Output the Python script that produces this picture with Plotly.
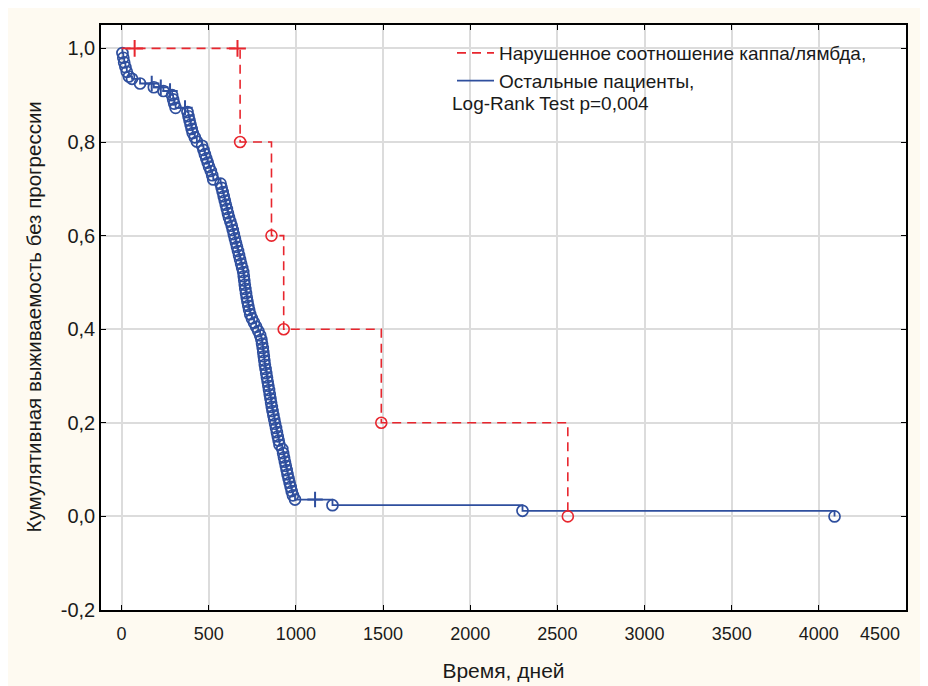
import plotly.graph_objects as go

# ---------------- data ----------------
red_name = "Нарушенное соотношение каппа/лямбда,"
blue_name = "Остальные пациенты,"
logrank_text = "Log-Rank Test p=0,004"

red_event_t = [680, 860, 930, 1490, 2560]
red_event_s = [0.8, 0.6, 0.4, 0.2, 0.0]
red_cens_t = [75, 665]
red_cens_s = [1.0, 1.0]

blue_event_t = [5, 10, 15, 22, 30, 42, 60, 106, 185, 240,
                290, 296, 302, 310, 378, 384, 390, 396, 402, 408,
                420, 432, 462, 470, 478, 486, 494, 502, 512, 520,
                526, 568, 574, 580, 586, 592, 598, 604, 610, 616,
                624, 632, 638, 644, 650, 656, 662, 668, 674, 680,
                686, 692, 698, 701, 704, 707, 710, 714, 718, 722,
                727, 732, 738, 748, 760, 772, 784, 795, 802, 806,
                810, 813, 816, 819, 822, 826, 830, 834, 838, 842,
                846, 850, 854, 858, 862, 866, 871, 876, 881, 886,
                891, 896, 901, 906, 922, 927, 932, 937, 942, 947,
                952, 958, 964, 970, 976, 983, 995, 1210, 2300, 4090]
blue_event_s = [0.990, 0.980, 0.970, 0.960, 0.950, 0.940, 0.935, 0.925, 0.917, 0.909,
                0.900, 0.891, 0.882, 0.873, 0.864, 0.855, 0.846, 0.837, 0.828, 0.819,
                0.810, 0.801, 0.792, 0.783, 0.774, 0.765, 0.756, 0.747, 0.738, 0.729,
                0.720, 0.711, 0.702, 0.693, 0.684, 0.675, 0.666, 0.657, 0.648, 0.639,
                0.630, 0.621, 0.612, 0.603, 0.594, 0.585, 0.576, 0.567, 0.558, 0.549,
                0.540, 0.531, 0.522, 0.513, 0.504, 0.495, 0.486, 0.477, 0.468, 0.459,
                0.450, 0.441, 0.432, 0.423, 0.414, 0.405, 0.396, 0.387, 0.378, 0.369,
                0.360, 0.351, 0.342, 0.333, 0.324, 0.315, 0.306, 0.297, 0.288, 0.279,
                0.270, 0.261, 0.252, 0.243, 0.234, 0.225, 0.216, 0.207, 0.198, 0.189,
                0.180, 0.171, 0.162, 0.153, 0.144, 0.135, 0.126, 0.117, 0.108, 0.099,
                0.090, 0.081, 0.072, 0.063, 0.054, 0.045, 0.036, 0.024, 0.012, 0.000]
blue_cens_t = [173, 225, 278, 364, 1110]
blue_cens_s = [0.925, 0.917, 0.909, 0.873, 0.036]

x_tick_vals = [0, 500, 1000, 1500, 2000, 2500, 3000, 3500, 4000, 4500]
x_tick_text = ["0", "500", "1000", "1500", "2000", "2500", "3000", "3500", "4000", "4500"]
y_tick_vals = [-0.2, 0.0, 0.2, 0.4, 0.6, 0.8, 1.0]
y_tick_text = ["-0,2", "0,0", "0,2", "0,4", "0,6", "0,8", "1,0"]

x_title = "Время, дней"
y_title = "Кумулятивная выживаемость без прогрессии"

# ---------------- styling ----------------
RED = "#E8262E"
BLUE = "#2F4F9E"
FONT = "Liberation Sans, Arial, sans-serif"
TXT = "#1a1a1a"
CREAM = "#FEFAF1"

W, H = 912, 686
ML, MR, MT, MB = 93, 14, 17, 84

fig = go.Figure()

# blue curve
fig.add_trace(go.Scatter(
    x=[0] + blue_event_t, y=[1.0] + blue_event_s,
    mode="lines", line=dict(color=BLUE, width=1.8, shape="hv"),
    name=blue_name, legendrank=2, hoverinfo="skip"))
fig.add_trace(go.Scatter(
    x=blue_event_t, y=blue_event_s, mode="markers",
    marker=dict(symbol="circle-open", size=11, color=BLUE, line=dict(width=1.7, color=BLUE)),
    showlegend=False, hoverinfo="skip"))
fig.add_trace(go.Scatter(
    x=blue_cens_t, y=blue_cens_s, mode="markers",
    marker=dict(symbol="cross-thin-open", size=11, color=BLUE, line=dict(width=2, color=BLUE)),
    showlegend=False, hoverinfo="skip"))

# red curve
fig.add_trace(go.Scatter(
    x=[0] + red_event_t, y=[1.0] + red_event_s,
    mode="lines", line=dict(color=RED, width=1.6, shape="hv", dash="9px,6px"),
    name=red_name, legendrank=1, hoverinfo="skip"))
fig.add_trace(go.Scatter(
    x=red_event_t, y=red_event_s, mode="markers",
    marker=dict(symbol="circle-open", size=11, color=RED, line=dict(width=1.6, color=RED)),
    showlegend=False, hoverinfo="skip"))
fig.add_trace(go.Scatter(
    x=red_cens_t, y=red_cens_s, mode="markers",
    marker=dict(symbol="cross-thin-open", size=12, color=RED, line=dict(width=2, color=RED)),
    showlegend=False, hoverinfo="skip"))

pw = W - ML - MR
ph = H - MT - MB

def px_to_paper_x(px):
    return (px - ML) / pw

def px_to_paper_y(py):
    return (H - MB - py) / ph

# the last x tick label is kept inside the frame (as in the reference),
# so it is drawn as an annotation anchored on the axis value
last_lbl = dict(text=x_tick_text[-1], xref="x", yref="paper",
                x=x_tick_vals[-1], y=0, xanchor="right", yanchor="top",
                yshift=-12, xshift=-4, showarrow=False,
                font=dict(family=FONT, size=18, color=TXT))

ytitle_ann = dict(text=y_title, xref="paper", yref="paper",
                  x=px_to_paper_x(25), y=0.5, xanchor="center", yanchor="middle",
                  textangle=-90, showarrow=False,
                  font=dict(family=FONT, size=20.5, color=TXT))

fig.update_layout(
    width=W, height=H,
    margin=dict(l=ML, r=MR, t=MT, b=MB, autoexpand=False),
    paper_bgcolor=CREAM, plot_bgcolor="white",
    font=dict(family=FONT, size=19, color=TXT),
    showlegend=True,
    legend=dict(x=px_to_paper_x(444), y=px_to_paper_y(26), xanchor="left", yanchor="top",
                bgcolor="rgba(0,0,0,0)", borderwidth=0,
                font=dict(family=FONT, size=19, color=TXT),
                tracegroupgap=0, itemwidth=37),
    annotations=[dict(text=logrank_text, xref="paper", yref="paper",
                      x=px_to_paper_x(442), y=px_to_paper_y(96),
                      xanchor="left", yanchor="middle", showarrow=False,
                      font=dict(family=FONT, size=19, color=TXT)),
                 last_lbl, ytitle_ann],
    xaxis=dict(range=[-118, 4500], tickvals=x_tick_vals[:-1] + [x_tick_vals[-1] - 0.001],
               ticktext=x_tick_text[:-1] + [""],
               ticks="inside", ticklen=5,
               tickcolor="black", tickwidth=1.2, ticklabelstandoff=7,
               tickfont=dict(family=FONT, size=18, color=TXT),
               showline=True, linecolor="black", linewidth=1.5, mirror="ticks",
               showgrid=True, gridcolor="#DCDCDC", gridwidth=1.5, zeroline=False,
               title=dict(text=x_title, standoff=20, font=dict(size=21)),
               automargin=False),
    yaxis=dict(range=[-0.2, 1.05], tickvals=y_tick_vals, ticktext=y_tick_text,
               ticks="inside", ticklen=5, tickcolor="black", tickwidth=1.2,
               tickfont=dict(family=FONT, size=20, color=TXT),
               showline=True, linecolor="black", linewidth=1.5, mirror="ticks",
               showgrid=True, gridcolor="#DCDCDC", gridwidth=1.5, zeroline=False,
               automargin=False),
)

fig.write_html("out.html")
